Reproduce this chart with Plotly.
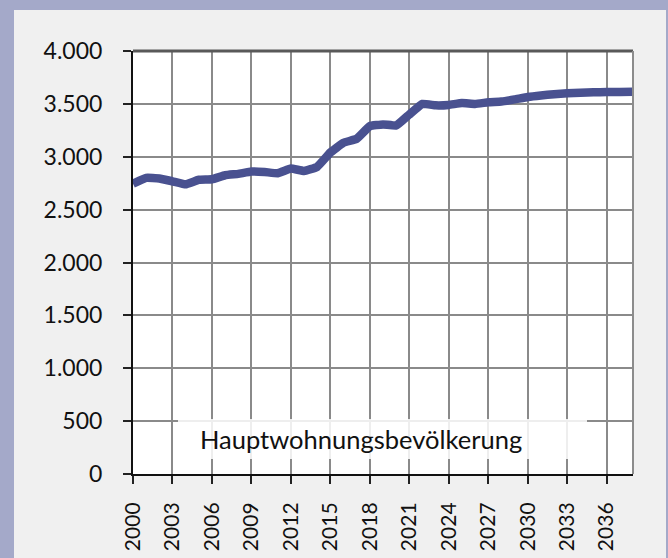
import plotly.graph_objects as go

years = list(range(2000, 2039))
population = [2745, 2800, 2795, 2768, 2740, 2782, 2787, 2825, 2838, 2860, 2856,
              2844, 2888, 2866, 2905, 3040, 3132, 3170, 3290, 3306, 3295, 3400,
              3500, 3486, 3490, 3508, 3500, 3515, 3522, 3542, 3565, 3580, 3592,
              3600, 3606, 3610, 3612, 3613, 3614]
y_ticks = [0, 500, 1000, 1500, 2000, 2500, 3000, 3500, 4000]
y_tick_labels = ["0", "500", "1.000", "1.500", "2.000", "2.500", "3.000", "3.500", "4.000"]
x_ticks = list(range(2000, 2037, 3))
series_name = "Hauptwohnungsbevölkerung"

FONT = "Lato, 'Source Sans Pro', 'Open Sans', sans-serif"

fig = go.Figure()
fig.add_trace(go.Scatter(
    x=years, y=population, mode="lines", name=series_name,
    line=dict(color="#495190", width=8.5, shape="spline", smoothing=0.3),
    showlegend=False, cliponaxis=False, hoverinfo="skip",
))

W, H = 668, 558
L, R, T, B = 133, 35, 51, 84
pw, ph = W - L - R, H - T - B

def px_x(p):
    return (p - L) / pw

def px_y(p):
    return (H - B - p) / ph

shapes = [
    dict(type="rect", xref="paper", yref="paper", layer="below",
         x0=px_x(14), x1=px_x(666), y0=px_y(600), y1=px_y(10),
         fillcolor="#f0f0f0", line=dict(width=0)),
    dict(type="rect", xref="paper", yref="paper", layer="below",
         x0=0, x1=1, y0=0, y1=1, fillcolor="white", line=dict(width=0)),
    dict(type="rect", xref="paper", yref="paper", layer="above",
         x0=px_x(178), x1=px_x(587), y0=px_y(459), y1=px_y(419),
         fillcolor="rgba(255,255,255,0.85)", line=dict(width=0)),
    dict(type="line", xref="paper", yref="paper", layer="above",
         x0=0, x1=1, y0=1, y1=1, line=dict(color="#595959", width=3)),
    dict(type="line", xref="paper", yref="paper", layer="above",
         x0=1, x1=1, y0=0, y1=1, line=dict(color="#8c8c8c", width=2)),
]

fig.update_layout(
    width=W, height=H,
    margin=dict(l=L, r=R, t=T, b=B, pad=0, autoexpand=False),
    paper_bgcolor="#a4a9c9",
    plot_bgcolor="rgba(0,0,0,0)",
    font=dict(family=FONT, size=23, color="#111111"),
    shapes=shapes,
    annotations=[dict(
        xref="paper", yref="paper", x=px_x(198), y=px_y(439),
        xanchor="left", yanchor="middle", showarrow=False,
        text=series_name, font=dict(family=FONT, size=25.5, color="#111111"),
    )],
)

fig.update_xaxes(
    range=[2000, 2038], tickmode="array", tickvals=x_ticks,
    ticktext=[str(v) for v in x_ticks], tickangle=-90, automargin=False,
    tickfont=dict(size=21),
    showgrid=True, gridcolor="#8a8a8a", gridwidth=2,
    showline=True, linecolor="#111111", linewidth=2,
    ticks="outside", ticklen=8, tickwidth=2, tickcolor="#222222",
    ticklabelstandoff=10, zeroline=False,
)
fig.update_yaxes(
    range=[0, 4000], tickmode="array", tickvals=y_ticks, ticktext=y_tick_labels,
    automargin=False,
    showgrid=True, gridcolor="#8a8a8a", gridwidth=2,
    showline=True, linecolor="#111111", linewidth=2,
    ticks="outside", ticklen=8, tickwidth=2, tickcolor="#222222",
    ticklabelstandoff=16, zeroline=False,
)

fig.write_html("out.html", config={"displayModeBar": False},
               post_script="document.body.style.margin='0';")
